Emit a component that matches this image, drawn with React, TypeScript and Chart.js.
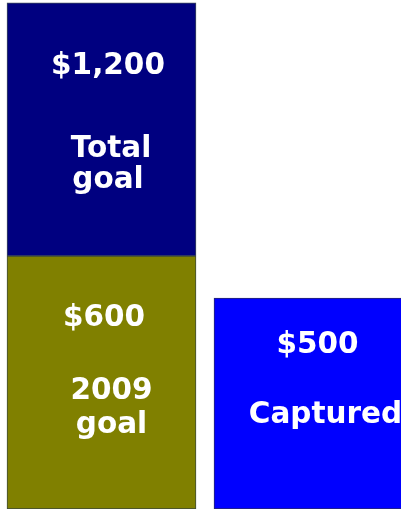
import React, { useEffect, useRef } from "react";
import { Chart, registerables } from "chart.js";

Chart.register(...registerables);

const categories = ["Goal", "Captured"];
const baseValues = [600, 500];
const topValues = [600, 0];
const baseLabels = [["$600", "2009", "goal"], ["$500", "Captured"]];
const topLabels = [["$1,200", "Total", "goal"], []];

// label placement (pixels relative to each bar segment's top/center)
const baseLabelLayout = [
  [[2.5, 70], [10, 143], [10, 177]],
  [[9, 55], [17, 125]],
];
const topLabelLayout = [
  [[6.5, 71], [9.5, 154], [6.5, 185]],
  [],
];

const labelPlugin = {
  id: "segmentLabels",
  afterDatasetsDraw(chart: any) {
    const ctx = chart.ctx;
    ctx.save();
    ctx.fillStyle = "#ffffff";
    ctx.font = "bold 29.5px 'DejaVu Sans'";
    ctx.textAlign = "center";
    ctx.textBaseline = "alphabetic";
    const sets = [
      { labels: baseLabels, layout: baseLabelLayout },
      { labels: topLabels, layout: topLabelLayout },
    ];
    sets.forEach((s, di) => {
      const meta = chart.getDatasetMeta(di);
      meta.data.forEach((el: any, i: number) => {
        const lines = s.labels[i] || [];
        lines.forEach((t: string, li: number) => {
          const [dx, dy] = s.layout[i][li];
          ctx.fillText(t, el.x + dx, el.y + dy);
        });
      });
    });
    ctx.restore();
  },
};

export default function App() {
  const ref = useRef<HTMLCanvasElement>(null);
  useEffect(() => {
    if (!ref.current) return;
    const chart = new Chart(ref.current, {
      type: "bar",
      data: {
        labels: categories,
        datasets: [
          {
            label: "2009 goal",
            data: baseValues,
            backgroundColor: ["#808000", "#0000ff"],
            borderColor: ["#3d4a3a", "#2a2a6a"],
            borderWidth: 1,
            borderSkipped: false,
          },
          {
            label: "Total goal",
            data: topValues,
            backgroundColor: "#000080",
            borderColor: "#3d4a5a",
            borderWidth: 1,
            borderSkipped: false,
          },
        ],
      },
      options: {
        animation: false,
        responsive: false,
        devicePixelRatio: 1,
        layout: { padding: 0 },
        plugins: { legend: { display: false }, tooltip: { enabled: false } },
        datasets: { bar: { barThickness: 189 } },
        scales: {
          x: { stacked: true, display: false },
          y: { stacked: true, display: false, min: 0, max: 1207 },
        },
      },
      plugins: [labelPlugin],
    });
    return () => chart.destroy();
  }, []);
  return (
    <div
      style={{
        position: "fixed",
        left: 0,
        top: 0,
        width: 401,
        height: 510,
        overflow: "hidden",
        background: "#ffffff",
      }}
    >
      <canvas
        ref={ref}
        width={414}
        height={509}
        style={{ position: "absolute", left: -2, top: 0, width: 414, height: 509 }}
      />
    </div>
  );
}
